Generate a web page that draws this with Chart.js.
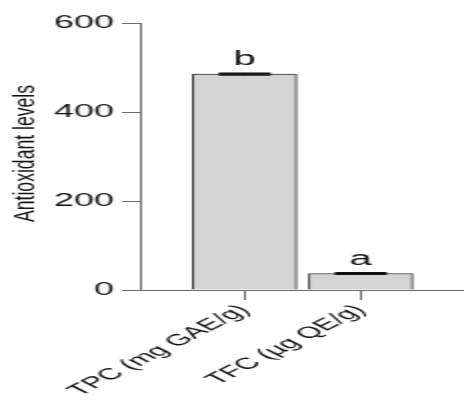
<!DOCTYPE html>
<html>
<head>
<meta charset="utf-8">
<script src="https://cdn.jsdelivr.net/npm/chart.js@4.4.0/dist/chart.umd.min.js"></script>
<style>
  html, body { margin: 0; padding: 0; background: #fff; }
</style>
</head>
<body>
<!-- the reference is stretched 2x horizontally, so the canvas is drawn at half width -->
<canvas id="chart" width="232" height="403" style="display:block;width:464px;height:403px"></canvas>
<script>
// =========================================================================
// 1. DATA
// =========================================================================
var categories = ['TPC (mg GAE/g)', 'TFC (µg QE/g)'];
var means = [485, 37];
var errors = [2, 1.5];
var letters = ['b', 'a'];
var yTicks = [0, 200, 400, 600];
var yTitle = 'Antioxidant levels';

var FONT = "'Liberation Sans', Arial, Helvetica, sans-serif";
var AXIS = '#6b6b6b';

// =========================================================================
// 2. PLUGINS (error bars + letters, y title)
// =========================================================================
var errorBars = {
    id: 'errorBars',
    afterDatasetsDraw: function(chart) {
        var ctx = chart.ctx;
        var xs = chart.scales.x, ys = chart.scales.y;
        ctx.save();
        ctx.strokeStyle = '#111';
        ctx.fillStyle = '#111';
        ctx.lineWidth = 1.5;
        ctx.textAlign = 'center';
        ctx.textBaseline = 'alphabetic';
        ctx.font = '20px ' + FONT;
        means.forEach(function(m, i) {
            var x = xs.getPixelForValue(i + 1);
            var top = ys.getPixelForValue(m + errors[i]);
            var bot = ys.getPixelForValue(m - errors[i]);
            ctx.beginPath();
            ctx.moveTo(x, top); ctx.lineTo(x, bot);
            ctx.moveTo(x - 13, top); ctx.lineTo(x + 13, top);
            ctx.moveTo(x - 13, bot); ctx.lineTo(x + 13, bot);
            ctx.stroke();
            ctx.fillText(letters[i], x, top - 8);
        });
        ctx.restore();
    }
};

var yTitlePlugin = {
    id: 'yTitle',
    afterDraw: function(chart) {
        var ctx = chart.ctx;
        var area = chart.chartArea;
        ctx.save();
        ctx.translate(16.5, (area.top + area.bottom) / 2 - 3);
        ctx.rotate(-Math.PI / 2);
        ctx.scale(1, 0.78);
        ctx.font = '17.6px ' + FONT;
        ctx.fillStyle = '#111';
        ctx.textAlign = 'center';
        ctx.textBaseline = 'alphabetic';
        ctx.fillText(yTitle, 0, 0);
        ctx.restore();
    }
};

// =========================================================================
// 3. CHART
// =========================================================================
new Chart(document.getElementById('chart'), {
    type: 'bar',
    data: {
        datasets: [{
            data: means.map(function(m, i) { return { x: i + 1, y: m }; }),
            backgroundColor: '#d4d4d4',
            borderColor: '#333',
            borderWidth: 1,
            barThickness: 52
        }]
    },
    options: {
        responsive: false,
        devicePixelRatio: 1,
        animation: false,
        layout: { padding: { top: 23, right: 0, bottom: 0, left: 0 } },
        plugins: { legend: { display: false }, tooltip: { enabled: false } },
        scales: {
            x: {
                type: 'linear',
                offset: false,
                min: 0.098,
                max: 2.889,
                afterBuildTicks: function(s) {
                    s.ticks = categories.map(function(c, i) { return { value: i + 1 }; });
                },
                afterFit: function(s) { s.height = 113; },
                grid: { offset: false, drawOnChartArea: false, color: AXIS, tickLength: 10 },
                border: { color: AXIS },
                ticks: {
                    autoSkip: false,
                    minRotation: 45,
                    maxRotation: 45,
                    padding: 1,
                    color: '#111',
                    font: { family: FONT, size: 16 },
                    callback: function(v) { return categories[v - 1]; }
                }
            },
            y: {
                min: 0,
                max: 600,
                afterBuildTicks: function(s) {
                    s.ticks = yTicks.map(function(v) { return { value: v }; });
                },
                afterFit: function(s) { s.width = 70; },
                grid: { drawOnChartArea: false, color: AXIS, tickLength: 9 },
                border: { color: AXIS },
                ticks: { padding: 4, color: '#111', font: { family: FONT, size: 18 } }
            }
        }
    },
    plugins: [errorBars, yTitlePlugin]
});
</script>
</body>
</html>
